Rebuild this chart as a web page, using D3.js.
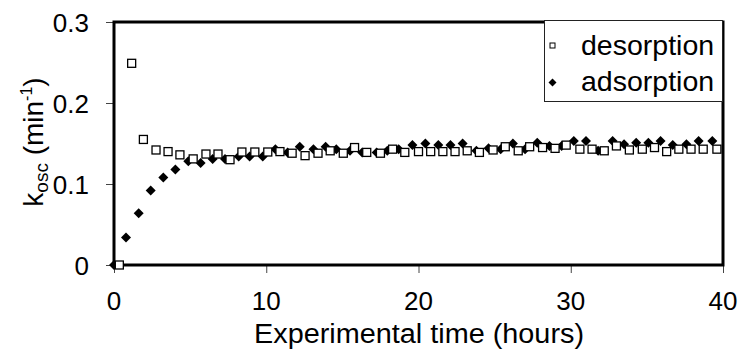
<!DOCTYPE html>
<html><head><meta charset="utf-8">
<script src="https://cdn.jsdelivr.net/npm/d3@7"></script>
<style>body{margin:0;background:#fff}svg{display:block}text{font-family:"Liberation Sans",Arial,sans-serif;fill:#000}</style>
</head><body><div id="chart"></div>
<script>
const xTicks = [0, 10, 20, 30, 40];
const yTicks = [0, 0.1, 0.2, 0.3];
const yTickLabels = ["0", "0.1", "0.2", "0.3"];
const seriesNames = ["desorption", "adsorption"];

const desTime = [0.35,1.16,1.93,2.76,3.55,4.33,5.2,6.04,6.83,7.62,8.4,9.25,10.1,10.9,11.7,12.55,13.4,14.2,15.06,15.8,16.6,17.5,18.3,19.1,20.0,20.8,21.6,22.4,23.2,24.0,24.9,25.7,26.55,27.3,28.15,28.97,29.7,30.6,31.4,32.2,33.0,33.85,34.7,35.5,36.3,37.1,37.9,38.7,39.6];
const desValue = [0.0,0.249,0.155,0.142,0.140,0.136,0.131,0.137,0.137,0.130,0.1395,0.1395,0.1395,0.140,0.138,0.135,0.138,0.141,0.138,0.145,0.139,0.138,0.143,0.139,0.140,0.140,0.140,0.140,0.141,0.139,0.142,0.146,0.141,0.146,0.145,0.144,0.148,0.143,0.143,0.141,0.147,0.142,0.143,0.145,0.140,0.143,0.143,0.143,0.143];

const adsTime = [0,0.79,1.62,2.41,3.24,4.03,4.88,5.69,6.48,7.29,8.19,8.91,9.77,10.6,11.4,12.2,13.1,13.9,14.6,15.5,16.3,17.25,17.95,18.7,19.6,20.45,21.3,22.1,22.9,23.8,24.6,25.4,26.2,27.0,27.8,28.6,29.4,30.2,31.0,31.8,32.75,33.5,34.3,35.1,35.9,36.7,37.6,38.4,39.3];
const adsValue = [0,0.034,0.064,0.092,0.108,0.118,0.128,0.126,0.131,0.131,0.134,0.134,0.134,0.143,0.139,0.146,0.143,0.146,0.143,0.141,0.139,0.139,0.141,0.143,0.148,0.150,0.148,0.148,0.150,0.141,0.144,0.143,0.150,0.143,0.151,0.147,0.147,0.153,0.153,0.141,0.153,0.149,0.151,0.151,0.153,0.148,0.149,0.153,0.153];

const W = 740, H = 353;
const svg = d3.select("#chart").append("svg").attr("width", W).attr("height", H);
svg.append("rect").attr("width", W).attr("height", H).attr("fill", "#fff");

const x = d3.scaleLinear().domain([0, 40]).range([114, 723]);
const y = d3.scaleLinear().domain([0, 0.3]).range([265, 22]);

const xAxis = d3.axisBottom(x).tickValues(xTicks).tickSize(8).tickFormat("");
const gx = svg.append("g").attr("transform", `translate(0,${y(0)})`).call(xAxis);
gx.select(".domain").remove();
gx.selectAll(".tick line").attr("stroke", "#444").attr("stroke-width", 1);

const yAxis = d3.axisLeft(y).tickValues(yTicks).tickSize(8).tickFormat("");
const gy = svg.append("g").attr("transform", `translate(${x(0)},0)`).call(yAxis);
gy.select(".domain").remove();
gy.selectAll(".tick line").attr("stroke", "#444").attr("stroke-width", 1);

svg.append("g").selectAll("text").data(xTicks).join("text")
  .attr("x", d => x(d)).attr("y", 310).attr("text-anchor", "middle")
  .attr("font-size", 26).text(d => d);
svg.append("g").selectAll("text").data(yTicks).join("text")
  .attr("x", 89).attr("y", d => y(d) + 9.5).attr("text-anchor", "end")
  .attr("font-size", 26).text((d, i) => yTickLabels[i]);

svg.append("rect").attr("x", x(0)).attr("y", y(0.3)).attr("width", x(40) - x(0)).attr("height", y(0) - y(0.3))
  .attr("fill", "none").attr("stroke", "#000").attr("stroke-width", 3);

function diamond(r) { return `M0,${-r}L${r},0L0,${r}L${-r},0Z`; }

svg.append("g").selectAll("path").data(adsTime).join("path")
  .attr("transform", (d, i) => `translate(${x(d)},${y(adsValue[i])})`)
  .attr("d", diamond(5)).attr("fill", "#000");

svg.append("g").selectAll("rect").data(desTime).join("rect")
  .attr("x", d => x(d) - 4).attr("y", (d, i) => y(desValue[i]) - 4)
  .attr("width", 8).attr("height", 8).attr("fill", "#fff").attr("stroke", "#000").attr("stroke-width", 1.3);

svg.append("text").attr("x", 419).attr("y", 343).attr("text-anchor", "middle").attr("font-size", 27)
  .attr("textLength", 330).attr("lengthAdjust", "spacingAndGlyphs")
  .text("Experimental time (hours)");

const yl = svg.append("text").attr("transform", "translate(43,142) rotate(-90)").attr("text-anchor", "middle").attr("font-size", 28);
yl.append("tspan").text("k");
yl.append("tspan").attr("font-size", 19).attr("dy", 5).text("osc");
yl.append("tspan").attr("dy", -5).text(" (min");
yl.append("tspan").attr("font-size", 16).attr("dy", -11).text("-1");
yl.append("tspan").attr("dy", 11).text(")");

const lg = svg.append("g");
lg.append("rect").attr("x", 544.5).attr("y", 20.5).attr("width", 178).attr("height", 81)
  .attr("fill", "#fff").attr("stroke", "#222").attr("stroke-width", 1);
lg.append("rect").attr("x", 550).attr("y", 43).attr("width", 5).attr("height", 5)
  .attr("fill", "#fff").attr("stroke", "#000").attr("stroke-width", 1);
lg.append("path").attr("transform", "translate(552.5,82.5)").attr("d", diamond(4)).attr("fill", "#000");
lg.append("text").attr("x", 581).attr("y", 55).attr("font-size", 28.5).text(seriesNames[0]);
lg.append("text").attr("x", 581).attr("y", 91).attr("font-size", 28.5).text(seriesNames[1]);
</script></body></html>
